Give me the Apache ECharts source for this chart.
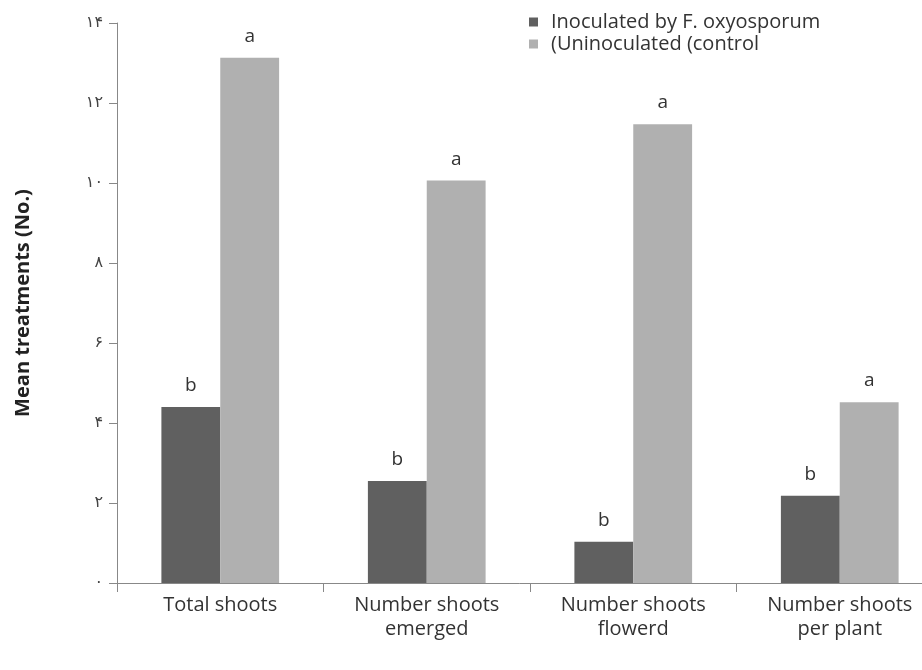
<!DOCTYPE html>
<html>
<head>
<meta charset="utf-8">
<script src="https://cdn.jsdelivr.net/npm/echarts@6/dist/echarts.min.js"></script>
<style>
  html, body { margin: 0; padding: 0; background: #fff; }
  #chart { width: 922px; height: 670px; }
</style>
</head>
<body>
<div id="chart"></div>
<script>
const categories = [
  "Total shoots",
  "Number shoots\nemerged",
  "Number shoots\nflowerd",
  "Number shoots\nper plant",
];
const inoculated = [4.4, 2.55, 1.03, 2.18];
const uninoculated = [13.13, 10.06, 11.47, 4.52];
const inoculatedLetters = ["b", "b", "b", "b"];
const uninoculatedLetters = ["a", "a", "a", "a"];
const yTickLabels = ["۰", "۲", "۴", "۶", "۸", "۱۰", "۱۲", "۱۴"];

const font = "'Open Sans', 'DejaVu Sans', sans-serif";
const chart = echarts.init(document.getElementById("chart"));

const option = {
  animation: false,
  textStyle: { fontFamily: font },
  legend: {
    orient: "vertical",
    left: 524,
    top: 6,
    icon: "rect",
    itemWidth: 9,
    itemHeight: 9,
    itemGap: 0,
    textStyle: {
      fontSize: 20,
      color: "#333",
      fontFamily: font,
      padding: [0, 0, 0, 8],
      lineHeight: 22,
    },
    data: ["Inoculated by F. oxyosporum", "(Uninoculated (control"],
  },
  grid: {
    left: 117,
    width: 826,
    top: 23,
    bottom: 87,
    outerBoundsMode: "none",
  },
  xAxis: {
    type: "category",
    data: categories,
    axisLine: { lineStyle: { color: "#888", width: 1 } },
    axisTick: { show: true, length: 9, lineStyle: { color: "#888" } },
    axisLabel: {
      color: "#333",
      fontSize: 20,
      margin: 10,
      lineHeight: 24,
      fontFamily: font,
    },
  },
  yAxis: {
    type: "value",
    min: 0,
    max: 14,
    interval: 2,
    name: "Mean treatments (No.)",
    nameLocation: "middle",
    nameGap: 84,
    nameTextStyle: { fontSize: 20, fontWeight: "bold", color: "#222", fontFamily: font },
    axisLine: { show: true, lineStyle: { color: "#888", width: 1 } },
    axisTick: { show: true, length: 8, lineStyle: { color: "#888" } },
    splitLine: { show: false },
    axisLabel: {
      color: "#444",
      fontSize: 16,
      margin: 14,
      fontFamily: "'DejaVu Sans', sans-serif",
      formatter: (v) => yTickLabels[Math.round(v / 2)],
    },
  },
  series: [
    {
      name: "Inoculated by F. oxyosporum",
      type: "bar",
      data: inoculated,
      barGap: "0%",
      barCategoryGap: "43%",
      itemStyle: { color: "#606060" },
      label: {
        show: true,
        position: "top",
        distance: 12,
        fontSize: 19,
        color: "#333",
        fontFamily: font,
        formatter: (p) => inoculatedLetters[p.dataIndex],
      },
    },
    {
      name: "(Uninoculated (control",
      type: "bar",
      data: uninoculated,
      itemStyle: { color: "#b0b0b0" },
      label: {
        show: true,
        position: "top",
        distance: 12,
        fontSize: 19,
        color: "#333",
        fontFamily: font,
        formatter: (p) => uninoculatedLetters[p.dataIndex],
      },
    },
  ],
};

chart.setOption(option);
</script>
</body>
</html>
